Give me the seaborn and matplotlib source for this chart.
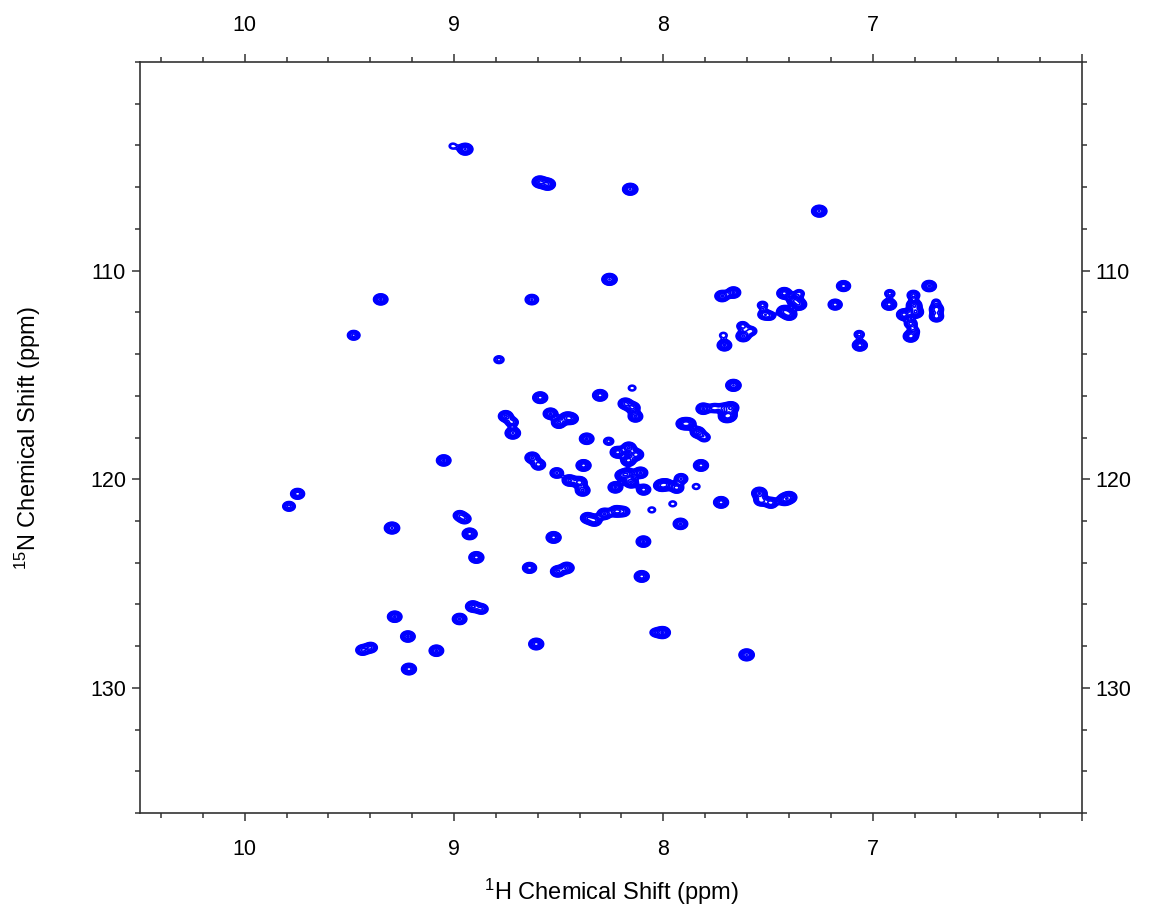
import numpy as np
import matplotlib
matplotlib.use("Agg")
import matplotlib.pyplot as plt
from matplotlib.ticker import MultipleLocator, FixedLocator
import seaborn as sns

# Peak list: 1H shift (ppm), 15N shift (ppm), relative intensity
h_ppm = [8.946, 9.005, 9.350, 8.590, 8.552, 8.158, 8.257, 8.628, 7.719, 7.665,
         7.255, 7.422, 7.374, 7.351, 7.422, 7.398, 7.526, 7.518, 7.489, 7.139,
         7.179, 6.918, 6.921, 6.850, 6.802, 6.794, 6.805, 6.730, 6.695, 6.697,
         7.351, 7.621, 7.581, 7.713, 7.618, 7.708, 7.064, 7.061, 6.818, 6.802,
         6.818, 7.665, 7.676, 7.685, 7.713, 7.541, 7.533, 7.486, 7.422, 7.398,
         7.724, 7.602, 9.479, 9.049, 9.747, 9.788, 8.973, 8.949, 9.296, 8.925,
         8.893, 8.910, 8.869, 8.973, 9.283, 9.220, 9.437, 9.398, 9.084, 9.215,
         8.785, 8.588, 8.302, 8.149, 8.181, 8.146, 8.133, 8.753, 8.723, 8.719,
         8.539, 8.499, 8.461, 8.440, 8.366, 8.261, 8.218, 8.165, 8.130, 8.167,
         8.626, 8.596, 8.509, 8.381, 8.448, 8.400, 8.385, 8.229, 8.197, 8.170,
         8.154, 8.109, 8.094, 8.011, 7.987, 7.936, 7.915, 7.843, 7.904, 7.879,
         7.836, 7.804, 7.820, 7.809, 7.756, 7.700, 8.329, 8.281, 8.225, 8.362,
         8.190, 8.055, 7.955, 7.918, 8.524, 8.095, 8.639, 8.504, 8.461, 8.103,
         8.003, 8.039, 8.607, 6.695]
n_ppm = [104.18, 104.03, 111.38, 105.75, 105.86, 106.10, 110.42, 111.39, 111.22, 111.05,
         107.15, 111.09, 111.42, 111.62, 111.95, 112.10, 111.66, 112.11, 112.17, 110.74,
         111.63, 111.10, 111.62, 112.11, 111.66, 111.99, 111.18, 110.74, 111.85, 111.51,
         111.10, 112.66, 112.90, 113.10, 113.14, 113.58, 113.06, 113.58, 112.54, 112.90,
         113.15, 115.50, 116.57, 116.94, 116.59, 120.67, 121.02, 121.13, 120.98, 120.87,
         121.11, 128.42, 113.10, 119.10, 120.70, 121.30, 121.74, 121.90, 122.34, 122.62,
         123.75, 126.10, 126.22, 126.70, 126.59, 127.54, 128.19, 128.07, 128.22, 129.10,
         114.27, 116.09, 115.98, 115.63, 116.38, 116.57, 116.99, 116.98, 117.27, 117.79,
         116.86, 117.29, 117.05, 117.10, 118.06, 118.18, 118.71, 118.49, 118.82, 119.10,
         118.97, 119.30, 119.70, 119.34, 120.06, 120.15, 120.54, 120.39, 119.82, 119.74,
         120.15, 119.69, 120.50, 120.30, 120.26, 120.41, 119.98, 120.35, 117.34, 117.34,
         117.75, 117.99, 119.34, 116.62, 116.59, 116.99, 121.98, 121.66, 121.54, 121.86,
         121.55, 121.47, 121.18, 122.14, 122.79, 122.99, 124.25, 124.42, 124.25, 124.66,
         127.35, 127.35, 127.90, 112.20]
intensity = [1.0, 0.2, 0.8, 1.0, 1.0, 1.0, 1.0, 0.6, 0.8, 0.8,
             1.0, 0.9, 0.9, 0.9, 0.9, 0.9, 0.3, 0.5, 0.3, 0.7,
             0.7, 0.3, 0.9, 0.9, 1.0, 1.0, 0.5, 0.8, 0.7, 0.2,
             0.3, 0.4, 0.4, 0.2, 0.8, 0.8, 0.3, 0.9, 0.5, 0.3,
             0.9, 1.0, 1.0, 1.0, 0.4, 1.0, 0.7, 0.7, 0.9, 0.9,
             0.9, 1.0, 0.5, 0.8, 0.7, 0.5, 0.5, 0.5, 1.0, 0.9,
             0.9, 0.8, 0.6, 0.8, 0.8, 0.8, 0.6, 0.6, 0.8, 0.9,
             0.3, 0.9, 0.9, 0.2, 0.8, 0.8, 0.8, 0.8, 0.5, 1.0,
             0.8, 0.8, 0.7, 0.7, 0.8, 0.3, 0.9, 0.8, 0.9, 0.9,
             0.8, 0.7, 0.6, 0.9, 0.8, 0.9, 0.8, 0.8, 0.7, 0.8,
             0.8, 0.8, 0.7, 0.8, 0.8, 0.7, 0.6, 0.2, 0.8, 0.8,
             0.8, 0.4, 0.9, 0.8, 0.4, 0.9, 0.8, 0.8, 0.8, 0.7,
             0.5, 0.2, 0.2, 0.8, 0.9, 0.8, 0.7, 0.8, 0.8, 0.9,
             1.0, 0.3, 0.9, 0.7]

x_major_ticks = [10, 9, 8, 7, 6]
x_tick_labels = ["10", "9", "8", "7", ""]
y_major_ticks = [110, 120, 130]
y_tick_labels = ["110", "120", "130"]

sns.set_theme(style="ticks")
plt.rcParams["font.family"] = ["Liberation Sans", "DejaVu Sans"]
plt.rcParams["mathtext.fontset"] = "custom"
plt.rcParams["mathtext.rm"] = "Liberation Sans"
plt.rcParams["mathtext.it"] = "Liberation Sans:italic"

fig = plt.figure(figsize=(11.53, 9.09), dpi=100)
ax = fig.add_axes([0.1214, 0.1056, 0.8170, 0.8262])

# spectrum surface built from the peak list
hx = np.linspace(6.0, 10.5, 1400)
ny = np.linspace(100.0, 136.0, 1100)
H, N = np.meshgrid(hx, ny)
Z = np.zeros_like(H)
sx, sy = 0.0175, 0.135
for h, n, a in zip(h_ppm, n_ppm, intensity):
    Z += a * np.exp(-((H - h) ** 2 / (2 * sx ** 2) + (N - n) ** 2 / (2 * sy ** 2)))

levels = [0.12 * 1.3 ** k for k in range(10)]
ax.contour(H, N, Z, levels=levels, colors="#0000ff", linewidths=1.2)

ax.set_xlim(10.5, 6.0)
ax.set_ylim(136, 100)

ax.xaxis.set_major_locator(FixedLocator(x_major_ticks))
ax.set_xticklabels(x_tick_labels)
ax.xaxis.set_minor_locator(MultipleLocator(0.2))
ax.yaxis.set_major_locator(FixedLocator(y_major_ticks))
ax.set_yticklabels(y_tick_labels)
ax.yaxis.set_minor_locator(MultipleLocator(2))

for s in ax.spines.values():
    s.set_visible(True)
    s.set_color("#333333")
    s.set_linewidth(1.2)

ax.tick_params(which="both", direction="out", colors="#333333", width=1.1,
               top=True, right=True, labeltop=True, labelright=True,
               labelsize=15.5, labelcolor="black")
ax.tick_params(which="major", length=6)
ax.tick_params(which="minor", length=3.5)
ax.tick_params(axis="x", which="major", pad=13)
ax.tick_params(axis="y", which="major", pad=4)

ax.set_xlabel(r"$^{1}$H Chemical Shift (ppm)", fontsize=17, labelpad=12, color="black")
ax.set_ylabel(r"$^{15}$N Chemical Shift (ppm)", fontsize=17, labelpad=34, color="black")
ax.grid(False)

fig.savefig("out.png", dpi=100, facecolor="white")
